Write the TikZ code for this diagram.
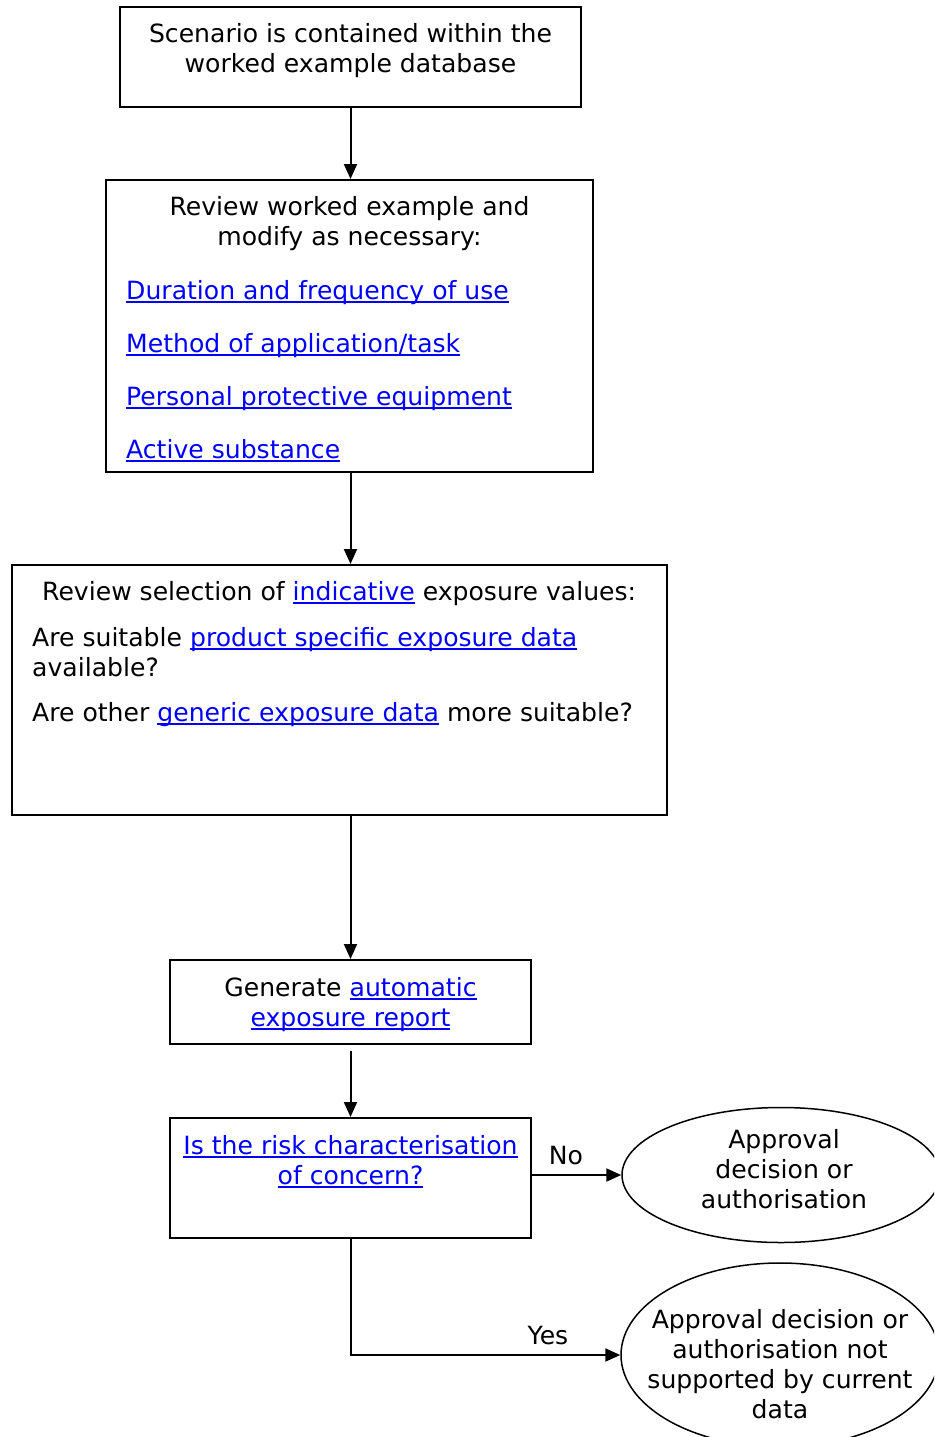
\documentclass[tikz,border=0pt]{standalone}
\usepackage{fontspec}
\setmainfont{DejaVu Sans}
\usetikzlibrary{arrows.meta,shapes.geometric}
\definecolor{linkblue}{RGB}{0,0,255}
\newcommand\lnk[1]{{\color{linkblue}\setbox0\hbox{#1}\rlap{\rule[-3.5pt]{\wd0}{1.8pt}}\box0}}
\begin{document}
\begin{tikzpicture}[x=1pt,y=-1pt,
  box/.style={draw, line width=2pt, rectangle, inner sep=0pt},
  oval/.style={draw, line width=1.5pt, ellipse, inner sep=0pt},
  txt/.style={font=\fontsize{25.1}{30}\selectfont, align=center, inner sep=0pt, anchor=base},
  ltxt/.style={font=\fontsize{25.1}{30}\selectfont, align=left, inner sep=0pt, anchor=base west},
  arr/.style={-{Triangle[length=15pt,width=13pt]}, line width=2pt}]
\useasboundingbox (0,0) rectangle (934,1437);
\clip (0,0) rectangle (934,1437);
\fill[white] (0,0) rectangle (934,1437);

\node[box, minimum width=461pt, minimum height=100pt] (b1) at (350.5,57) {};
\node[box, minimum width=487pt, minimum height=292pt] (b2) at (349.5,326) {};
\node[box, minimum width=655pt, minimum height=250pt] (b3) at (339.5,690) {};
\node[box, minimum width=361pt, minimum height=84pt] (b4) at (350.5,1002) {};
\node[box, minimum width=361pt, minimum height=120pt] (b5) at (350.5,1178) {};
\node[oval, minimum width=318pt, minimum height=135pt] (e1) at (781,1175) {};
\node[oval, minimum width=318pt, minimum height=184pt] (e2) at (780,1355) {};

% multi-line nodes: the base anchor is the baseline of the last line
\node[txt] (t1) at (350.5,73) {Scenario is contained within the\\worked example database};
\node[txt] (t2) at (349.5,245) {Review worked example and\\modify as necessary:};
\node[ltxt] (l1) at (126,299) {\lnk{Duration and frequency of use}};
\node[ltxt] (l2) at (126,352) {\lnk{Method of application/task}};
\node[ltxt] (l3) at (126,405) {\lnk{Personal protective equipment}};
\node[ltxt] (l4) at (126,458) {\lnk{Active substance}};
\node[ltxt] (t3a) at (42,600) {Review selection of \lnk{indicative} exposure values:};
\node[ltxt] (t3b) at (32,676) {Are suitable \lnk{product specific exposure data}\\available?};
\node[ltxt] (t3c) at (32,721) {Are other \lnk{generic exposure data} more suitable?};
\node[txt] (t4) at (350.5,1026) {Generate \lnk{automatic}\\\lnk{exposure report}};
\node[txt] (t5) at (350.5,1184) {\lnk{Is the risk characterisation}\\\lnk{of concern?}};
\node[txt] (no) at (566,1164) {No};
\node[txt] (yes) at (548,1344) {Yes};
\node[txt] (te1) at (784,1208) {Approval\\decision or\\authorisation};
\node[txt] (te2) at (780,1418) {Approval decision or\\authorisation not\\supported by current\\data};

\draw[arr] (b1.south) -- (b1.south |- b2.north);
\draw[arr] (b1.south |- b2.south) -- (b1.south |- b3.north);
\draw[arr] (b1.south |- b3.south) -- (b1.south |- b4.north);
\draw[arr, shorten <=6pt] (b4.south) -- (b5.north);
\draw[arr] (b5.east |- e1.west) -- (e1.west);
\draw[arr] (b5.south) |- (e2.west);
\end{tikzpicture}
\end{document}
